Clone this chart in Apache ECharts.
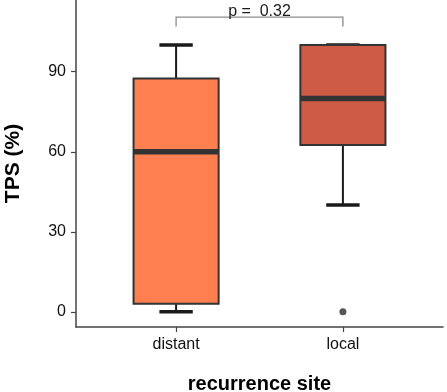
<!DOCTYPE html>
<html>
<head>
<meta charset="utf-8">
<script src="https://cdn.jsdelivr.net/npm/echarts@6/dist/echarts.min.js"></script>
<style>
  html, body { margin: 0; padding: 0; background: #fff; }
  #container { width: 447px; height: 392px; }
</style>
</head>
<body>
<div id="container"></div>
<script>
// data
var categories = ['distant', 'local'];
var minVals = [0, 40];
var q1Vals = [3, 62.5];
var medianVals = [60, 80];
var q3Vals = [87.5, 100];
var maxVals = [100, 100];
var outlierCats = ['local'];
var outlierVals = [0];
var yTicks = [0, 30, 60, 90];
var pText = 'p =  0.32';

// styling / layout
var boxColors = ['#FF7F50', '#CD5B45'];
var bracketTop = 110.5, bracketFoot = 107;
var font = '"Liberation Sans", Arial, sans-serif';

var boxData = categories.map(function (c, i) {
    return [i + 1, minVals[i], q1Vals[i], medianVals[i], q3Vals[i], maxVals[i]];
});
var outlierData = outlierCats.map(function (c, i) {
    return [categories.indexOf(c) + 1, outlierVals[i]];
});

function renderBox(params, api) {
    var x = api.value(0);
    var pMin = api.coord([x, api.value(1)]);
    var pQ1 = api.coord([x, api.value(2)]);
    var pMed = api.coord([x, api.value(3)]);
    var pQ3 = api.coord([x, api.value(4)]);
    var pMax = api.coord([x, api.value(5)]);
    var unit = api.size([1, 0])[0];
    var bw = unit * 0.51, cw = unit * 0.2;
    var cx = pMed[0];
    var whisker = { stroke: '#1a1a1a', lineWidth: 2 };
    var cap = { stroke: '#1a1a1a', lineWidth: 3.5 };
    return {
        type: 'group',
        children: [
            { type: 'line', shape: { x1: cx, y1: pQ3[1], x2: cx, y2: pMax[1] }, style: whisker },
            { type: 'line', shape: { x1: cx, y1: pQ1[1], x2: cx, y2: pMin[1] }, style: whisker },
            { type: 'line', shape: { x1: cx - cw / 2, y1: pMax[1], x2: cx + cw / 2, y2: pMax[1] }, style: cap },
            { type: 'line', shape: { x1: cx - cw / 2, y1: pMin[1], x2: cx + cw / 2, y2: pMin[1] }, style: cap },
            {
                type: 'rect',
                shape: { x: cx - bw / 2, y: pQ3[1], width: bw, height: pQ1[1] - pQ3[1] },
                style: { fill: boxColors[params.dataIndex], stroke: '#333333', lineWidth: 2 }
            },
            {
                type: 'line',
                shape: { x1: cx - bw / 2, y1: pMed[1], x2: cx + bw / 2, y2: pMed[1] },
                style: { stroke: '#333333', lineWidth: 5.5 }
            }
        ]
    };
}

function renderBracket(params, api) {
    var a = api.coord([api.value(0), api.value(2)]);
    var b = api.coord([api.value(1), api.value(2)]);
    var foot = api.coord([api.value(0), api.value(3)]);
    return {
        type: 'group',
        children: [
            {
                type: 'polyline',
                shape: { points: [[a[0], foot[1]], [a[0], a[1]], [b[0], b[1]], [b[0], foot[1]]] },
                style: { stroke: '#8c8c8c', lineWidth: 1.3, fill: null }
            },
            {
                type: 'text',
                style: {
                    x: (a[0] + b[0]) / 2, y: a[1] + 3,
                    text: pText, fill: '#1a1a1a',
                    font: '16px ' + font,
                    align: 'center', verticalAlign: 'bottom'
                }
            }
        ]
    };
}

var myChart = echarts.init(document.getElementById('container'));
var option = {
    animation: false,
    grid: { left: 76, right: 4, top: 0, bottom: 65, containLabel: false, outerBoundsMode: 'none' },
    xAxis: {
        type: 'value',
        min: 0.4,
        max: 2.6,
        name: 'recurrence site',
        nameLocation: 'middle',
        nameGap: 47,
        nameTextStyle: { fontFamily: font, fontSize: 20, fontWeight: 'bold', color: '#000' },
        splitLine: { show: false },
        axisLine: { onZero: false, lineStyle: { color: '#444', width: 1.5 } },
        axisTick: { length: 5, customValues: [1, 2], lineStyle: { color: '#444', width: 1.2 } },
        axisLabel: {
            customValues: [1, 2],
            margin: 10,
            fontFamily: font, fontSize: 16, color: '#111'
        ,
            formatter: function (v) { return categories[Math.round(v) - 1]; }
        }
    },
    yAxis: {
        type: 'value',
        min: -5.7,
        max: 116.9,
        name: 'TPS (%)',
        nameLocation: 'middle',
        nameGap: 52,
        nameTextStyle: { fontFamily: font, fontSize: 21, fontWeight: 'bold', color: '#000' },
        splitLine: { show: false },
        axisLine: { onZero: false, lineStyle: { color: '#444', width: 1.5 } },
        axisTick: { length: 5, customValues: yTicks, lineStyle: { color: '#444', width: 1.2 } },
        axisLabel: {
            customValues: yTicks,
            margin: 10,
            fontFamily: font, fontSize: 16, color: '#111'
        }
    },
    series: [
        {
            type: 'custom',
            renderItem: renderBox,
            encode: { x: 0, y: [1, 2, 3, 4, 5] },
            data: boxData,
            z: 2
        },
        {
            type: 'scatter',
            data: outlierData,
            symbolSize: 7,
            itemStyle: { color: '#2b2b2b' },
            z: 3
        },
        {
            type: 'custom',
            renderItem: renderBracket,
            encode: { x: [0, 1], y: [2, 3] },
            data: [[1, 2, bracketTop, bracketFoot]],
            z: 3
        }
    ]
};
myChart.setOption(option);
</script>
</body>
</html>
